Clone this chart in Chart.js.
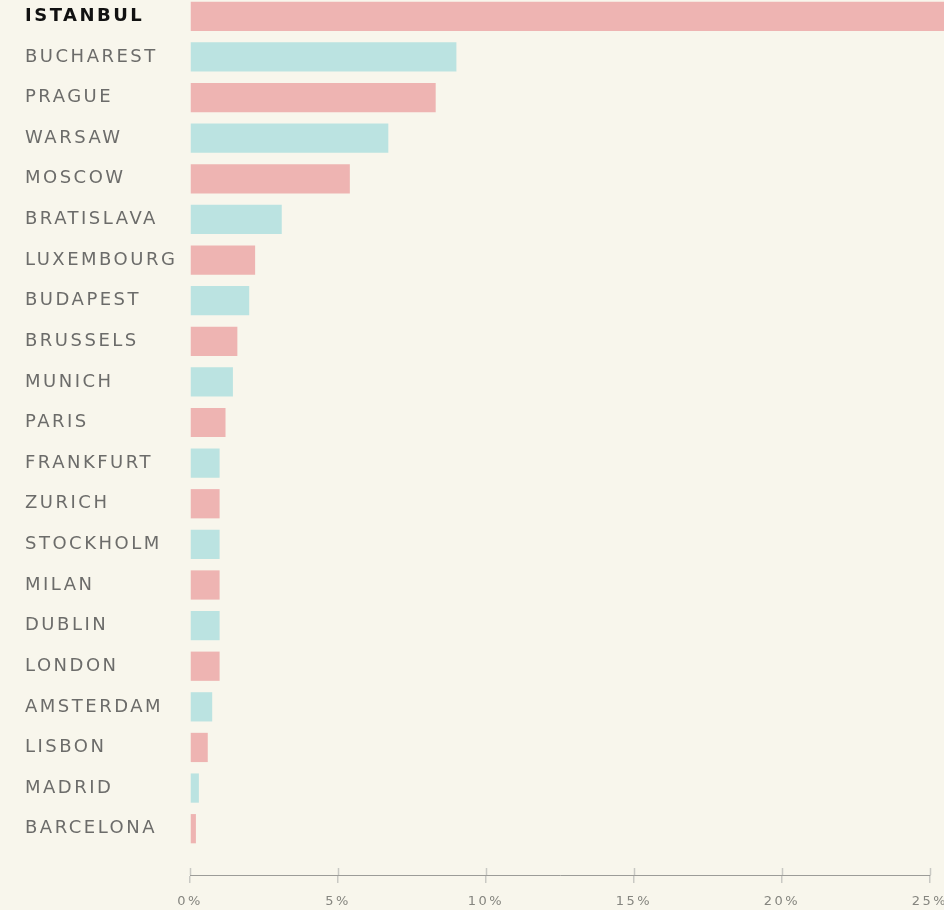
<!DOCTYPE html>
<html>
<head>
<meta charset="utf-8">
<script src="https://cdn.jsdelivr.net/npm/chart.js@4"></script>
<style>
  html,body{margin:0;padding:0;background:#f8f6ec;}
  #wrap{width:944px;height:910px;position:relative;}
</style>
</head>
<body>
<div id="wrap"><canvas id="c"></canvas></div>
<script>
const cities=['ISTANBUL','BUCHAREST','PRAGUE','WARSAW','MOSCOW','BRATISLAVA','LUXEMBOURG','BUDAPEST','BRUSSELS','MUNICH','PARIS','FRANKFURT','ZURICH','STOCKHOLM','MILAN','DUBLIN','LONDON','AMSTERDAM','LISBON','MADRID','BARCELONA'];
const shares=[26,9.0,8.3,6.7,5.4,3.1,2.2,2.0,1.6,1.45,1.2,1.0,1.0,1.0,1.0,1.0,1.0,0.75,0.6,0.3,0.2];
const xTicks=[0,5,10,15,20,25];

const PINK='#eeb4b2', TEAL='#bbe3e1';
const GAP=26;   // x axis sits a bit below the last bar
const LIFT=4;   // first row is slightly cut at the top

const spacing={
  id:'spacing',
  beforeLayout(chart){
    chart.ctx.letterSpacing='2.5px';
    const s=chart.scales.x;
    if(s && !s._moved){
      const d=s.draw.bind(s);
      s.draw=function(area){
        const ctx=chart.ctx;
        ctx.save(); ctx.translate(0,GAP); d(area); ctx.restore();
      };
      s._moved=true;
    }
  },
  afterLayout(chart){
    const y=chart.scales.y;
    y.top-=LIFT; y.height+=LIFT; y.configure();
  },
  beforeDraw(chart){ chart.ctx.letterSpacing='2.5px'; },
  afterDraw(chart){
    // tick marks cross the axis line
    const ctx=chart.ctx, x=chart.scales.x;
    const ay=chart.chartArea.bottom+GAP;
    ctx.save();
    ctx.strokeStyle='#c9c9c4'; ctx.lineWidth=1.5;
    xTicks.forEach(v=>{
      const px=Math.round(x.getPixelForValue(v))+0.5;
      ctx.beginPath(); ctx.moveTo(px,ay-7); ctx.lineTo(px,ay); ctx.stroke();
    });
    ctx.restore();
  }
};

new Chart(document.getElementById('c'),{
  type:'bar',
  data:{
    labels:cities,
    datasets:[{
      data:shares,
      backgroundColor:cities.map((c,i)=>i%2?TEAL:PINK),
      borderWidth:0,
      barPercentage:0.72,
      categoryPercentage:1,
      clip:false
    }]
  },
  options:{
    indexAxis:'y',
    responsive:true, maintainAspectRatio:false,
    animation:false,
    layout:{padding:{left:25,right:14,top:0,bottom:GAP}},
    plugins:{legend:{display:false},tooltip:{enabled:false}},
    scales:{
      y:{
        grid:{display:false}, border:{display:false},
        afterFit(s){ s.width=165; s.paddingTop=0; s.paddingBottom=0; },
        ticks:{
          crossAlign:'far', padding:0,
          font:(c)=>({family:'"DejaVu Sans"',size:18,weight:c.index===0?'bold':'normal'}),
          color:(c)=>c.index===0?'#111':'#6c6c6a'
        }
      },
      x:{
        min:0, max:25,
        position:'bottom',
        afterFit(s){ s.height=35; s.paddingLeft=0; s.paddingRight=0; },
        afterBuildTicks(s){ s.ticks=xTicks.map(v=>({value:v})); },
        border:{display:true,color:'#9c9c98',width:1},
        grid:{drawOnChartArea:false,drawTicks:true,tickLength:8,color:'#c9c9c4',lineWidth:1.5},
        ticks:{
          padding:11,
          font:{family:'"DejaVu Sans"',size:13},
          color:'#85857f',
          callback:(v)=>v+'%'
        }
      }
    }
  },
  plugins:[spacing]
});
</script>
</body>
</html>
